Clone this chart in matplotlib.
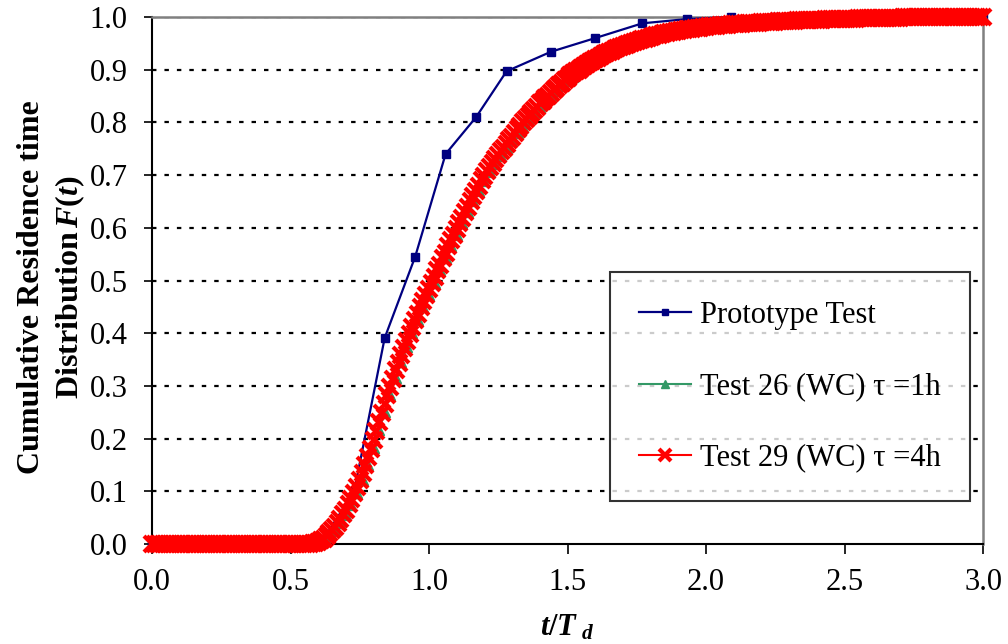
import numpy as np
import matplotlib
matplotlib.use("Agg")
import matplotlib.pyplot as plt

plt.rcParams['font.family'] = ['Liberation Serif', 'DejaVu Serif']
plt.rcParams['mathtext.fontset'] = 'custom'
plt.rcParams['mathtext.rm'] = 'Liberation Serif:bold'
plt.rcParams['mathtext.it'] = 'Liberation Serif:italic:bold'
plt.rcParams['mathtext.bf'] = 'Liberation Serif:bold'

# ---------------- data ----------------
proto_x = [0.00, 0.29, 0.40, 0.51, 0.62, 0.73, 0.84, 0.95, 1.06, 1.17, 1.28,
           1.44, 1.60, 1.77, 1.93, 2.09, 2.25, 2.41, 2.57, 2.73, 2.89, 3.00]
proto_f = [0.000, 0.000, 0.000, 0.000, 0.010, 0.100, 0.391, 0.545, 0.740, 0.810, 0.897,
           0.934, 0.960, 0.988, 0.996, 1.000, 1.000, 1.000, 1.000, 1.000, 1.000, 1.000]

# Test 29: sampled every 0.01 in t/Td (rows = 0.0x, 0.1x, ...)
test29_t = np.round(np.arange(301) * 0.01, 2)
test29_f = [
    0, 0, 0, 0, 0, 0, 0, 0, 0, 0,
    0, 0, 0, 0, 0, 0, 0, 0, 0, 0,
    0, 0, 0, 0, 0, 0, 0, 0, 0, 0,
    0, 0, 0, 0, 0, 0, 0, 0, 0, 0,
    0, 0, 0, 0, 0, 0, 0, 0, 0, 0,
    0, 0, 0, 0, 0, 0, 0, 0, 0.001, 0.002,
    0.004, 0.007, 0.010, 0.015, 0.020, 0.026, 0.033, 0.040, 0.048, 0.056,
    0.065, 0.075, 0.085, 0.096, 0.108, 0.121, 0.135, 0.150, 0.165, 0.181,
    0.198, 0.215, 0.232, 0.249, 0.266, 0.282, 0.298, 0.314, 0.330, 0.344,
    0.358, 0.372, 0.386, 0.399, 0.412, 0.425, 0.437, 0.449, 0.461, 0.473,
    0.484, 0.496, 0.507, 0.519, 0.530, 0.542, 0.553, 0.565, 0.576, 0.587,
    0.598, 0.609, 0.619, 0.630, 0.640, 0.650, 0.660, 0.670, 0.680, 0.690,
    0.699, 0.707, 0.715, 0.723, 0.730, 0.738, 0.745, 0.752, 0.759, 0.766,
    0.773, 0.780, 0.787, 0.794, 0.800, 0.806, 0.812, 0.818, 0.824, 0.830,
    0.836, 0.841, 0.846, 0.851, 0.856, 0.861, 0.866, 0.871, 0.875, 0.880,
    0.884, 0.889, 0.893, 0.897, 0.900, 0.904, 0.907, 0.911, 0.914, 0.917,
    0.920, 0.923, 0.926, 0.929, 0.931, 0.934, 0.936, 0.939, 0.941, 0.943,
    0.945, 0.947, 0.949, 0.951, 0.953, 0.955, 0.956, 0.958, 0.959, 0.961,
    0.962, 0.964, 0.965, 0.966, 0.967, 0.969, 0.970, 0.971, 0.972, 0.973,
    0.974, 0.975, 0.976, 0.977, 0.977, 0.978, 0.979, 0.980, 0.980, 0.981,
    0.981, 0.982, 0.982, 0.983, 0.983, 0.984, 0.984, 0.985, 0.985, 0.986,
    0.986, 0.987, 0.987, 0.987, 0.988, 0.988, 0.988, 0.989, 0.989, 0.989,
    0.990, 0.990, 0.990, 0.991, 0.991, 0.991, 0.992, 0.992, 0.992, 0.993,
    0.993, 0.993, 0.993, 0.994, 0.994, 0.994, 0.994, 0.995, 0.995, 0.995,
    0.995, 0.995, 0.995, 0.996, 0.996, 0.996, 0.996, 0.996, 0.996, 0.997,
    0.997, 0.997, 0.997, 0.997, 0.997, 0.998, 0.998, 0.998, 0.998, 0.998,
    0.998, 0.998, 0.998, 0.999, 0.999, 0.999, 0.999, 0.999, 0.999, 0.999,
    0.999, 1, 1, 1, 1, 1, 1, 1, 1, 1,
    1, 1, 1, 1, 1, 1, 1, 1, 1, 1,
    1, 1, 1, 1, 1, 1, 1, 1, 1, 1,
    1,
]

# Test 26: sampled every 0.02 in t/Td
test26_t = np.round(np.arange(151) * 0.02, 2)
test26_f = [
    0, 0, 0, 0, 0, 0, 0, 0, 0, 0,
    0, 0, 0, 0, 0, 0, 0, 0, 0, 0,
    0, 0, 0, 0, 0, 0, 0, 0, 0,
    0.000, 0.002, 0.006, 0.014, 0.025, 0.039, 0.055, 0.074, 0.096, 0.121,
    0.150, 0.182, 0.216, 0.250, 0.283, 0.315, 0.345, 0.373, 0.400, 0.425,
    0.450, 0.473, 0.496, 0.519, 0.542, 0.565, 0.587, 0.609, 0.630, 0.650,
    0.670,
    0.689, 0.706, 0.722, 0.737, 0.751, 0.765, 0.779, 0.792, 0.805, 0.817,
    0.829, 0.840, 0.850, 0.860, 0.869, 0.878, 0.887, 0.895, 0.903, 0.910,
    0.916, 0.922, 0.928, 0.933, 0.938, 0.942, 0.946, 0.950, 0.954, 0.957,
    0.960, 0.963, 0.966, 0.968, 0.970, 0.972, 0.974, 0.976, 0.978, 0.979,
    0.980, 0.981, 0.982, 0.983, 0.984, 0.985, 0.986, 0.987, 0.988, 0.989,
    0.989, 0.990, 0.991, 0.991, 0.992, 0.992, 0.993, 0.993, 0.994, 0.994,
    0.995, 0.995, 0.996, 0.996, 0.996, 0.997, 0.997, 0.997, 0.998, 0.998,
    0.998, 0.998, 0.999, 0.999, 0.999, 0.999,
    1, 1, 1, 1, 1, 1, 1, 1, 1, 1, 1, 1, 1, 1, 1,
]

labels = ["Prototype Test", "Test 26 (WC) \u03c4 =1h", "Test 29 (WC) \u03c4 =4h"]
x_ticks = [0.0, 0.5, 1.0, 1.5, 2.0, 2.5, 3.0]
y_ticks = [0.0, 0.1, 0.2, 0.3, 0.4, 0.5, 0.6, 0.7, 0.8, 0.9, 1.0]

# ---------------- figure ----------------
W, H = 1008, 644
fig = plt.figure(figsize=(W / 100, H / 100), dpi=100)
ax = fig.add_axes([152 / W, 1 - 544 / H, (983 - 152) / W, (544 - 17) / H])

FS = 22

for yv in y_ticks[1:]:
    ax.axhline(yv, color='black', lw=1.6, linestyle=(0, (2.0, 3.6)), zorder=1)

ax.plot(proto_x, proto_f, color='#000080', lw=1.6, marker='s', ms=6,
        label=labels[0], zorder=3, clip_on=False)
ax.plot(test26_t, test26_f, color='#339966', lw=1.5, marker='^', ms=7,
        label=labels[1], zorder=4, clip_on=False)
ax.plot(test29_t, test29_f, color='#FF0000', lw=1.5, marker='x', ms=11.5, mew=3.0,
        label=labels[2], zorder=5, clip_on=False)

ax.set_xlim(0, 3.0)
ax.set_ylim(0, 1.0)
ax.set_xticks(x_ticks)
ax.set_yticks(y_ticks)
ax.set_xticklabels([f"{v:.1f}" for v in x_ticks], fontsize=FS)
ax.set_yticklabels([f"{v:.1f}" for v in y_ticks], fontsize=FS)
ax.tick_params(axis='x', direction='out', length=7, width=1.2, pad=10, color='black')
ax.tick_params(axis='y', direction='out', length=5.5, width=1.2, pad=12, color='black')

for s in ['left', 'bottom']:
    ax.spines[s].set_color('black')
    ax.spines[s].set_linewidth(1.5)
for s in ['top', 'right']:
    ax.spines[s].set_color('#808080')
    ax.spines[s].set_linewidth(1.8)

fig.text(52 / W, 1 - 287 / H,
         "Cumulative Residence time\nDistribution$\\,F(t)$",
         rotation=90, ha='center', va='center', fontsize=23, fontweight='bold',
         multialignment='center', linespacing=1.3)
fig.text(567 / W, 1 - 628 / H, "$t/T_{\\ d}$", ha='center', va='center', fontsize=FS)

leg = ax.legend(loc='upper left', bbox_to_anchor=(610 / W, 1 - 272 / H),
                bbox_transform=fig.transFigure, fontsize=FS, frameon=True,
                fancybox=False, shadow=False, numpoints=1, handlelength=1.7,
                handletextpad=0.3, borderpad=0.95, labelspacing=1.38,
                borderaxespad=0, markerscale=0.8)
leg.get_frame().set_edgecolor('black')
leg.get_frame().set_linewidth(1.5)
leg.set_zorder(10)

fig.savefig("out.png", dpi=100)
